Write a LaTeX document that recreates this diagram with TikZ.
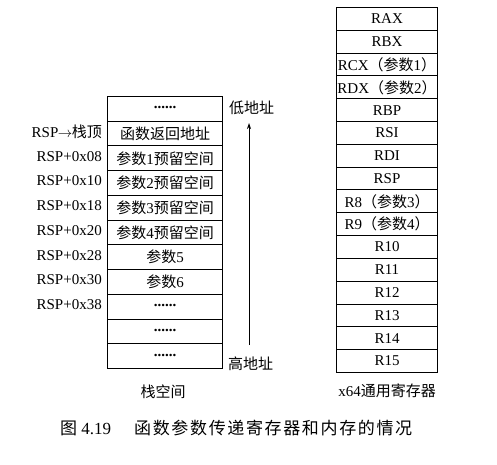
\documentclass[tikz,border=0pt]{standalone}
\usepackage{fontspec}
\setmainfont{Liberation Serif}
\newfontfamily\cjk{Noto Sans CJK SC}
\usetikzlibrary{arrows.meta}
\newcommand\C[1]{{\cjk #1}}
\newcommand\dotsrow{\raisebox{0.3ex}{\textbf{......}}}
\begin{document}
\begin{tikzpicture}[x=1pt,y=-1pt,
  cell/.style={draw, line width=1pt, rectangle, inner sep=0pt, anchor=north west},
  stackcell/.style={cell, minimum width=115pt, minimum height=24.73pt, font=\fontsize{15}{15}\selectfont},
  regcell/.style={cell, minimum width=101pt, minimum height=22.81pt, font=\fontsize{15}{15}\selectfont},
  lbl/.style={anchor=east, inner sep=0pt, font=\fontsize{15}{15}\selectfont},
  side/.style={inner sep=0pt, font=\fontsize{15}{15}\selectfont},
  captxt/.style={inner sep=0pt, anchor=west, font=\fontsize{17}{17}\selectfont}]
\useasboundingbox (0,0) rectangle (497,464);
% stack
\foreach \t [count=\i] in {{\dotsrow},{\C{函数返回地址}},{\C{参数}1\C{预留空间}},{\C{参数}2\C{预留空间}},{\C{参数}3\C{预留空间}},{\C{参数}4\C{预留空间}},{\C{参数}5},{\C{参数}6},{\dotsrow},{\dotsrow},{\dotsrow}}
  \node[stackcell] (s\i) at (107,{96+(\i-1)*24.73}) {\t};
% stack labels
\foreach \t [count=\j from 2] in {{RSP\kern-0.5pt$\rightarrow$\kern-0.5pt\C{栈顶}},{RSP+0x08},{RSP+0x10},{RSP+0x18},{RSP+0x20},{RSP+0x28},{RSP+0x30},{RSP+0x38}}
  \node[lbl] (l\j) at ([xshift=-5pt,yshift=2pt]s\j.west) {\t};
% registers
\foreach \t [count=\i] in {RAX,RBX,{RCX\C{（参数}1\C{）}},{RDX\C{（参数}2\C{）}},RBP,RSI,RDI,RSP,{R8\C{（参数}3\C{）}},{R9\C{（参数}4\C{）}},R10,R11,R12,R13,R14,R15}
  \node[regcell] (r\i) at (336,{7+(\i-1)*22.81}) {\t};
% address arrow
\coordinate (hiend) at (249,345);
\coordinate (loend) at (249,123);
\draw[line width=0.8pt, -{Stealth[length=6pt,width=4pt]}] (hiend) -- (loend);
\node[side, anchor=west] (low) at (229,108) {\C{低地址}};
\node[side, anchor=west] (high) at (228,364) {\C{高地址}};
% titles
\node[side] (stt) at (163,392) {\C{栈空间}};
\node[side] (rtt) at (387,391) {x64\C{通用寄存器}};
% caption
\node[captxt] (capn) at (60,428) {\C{图} 4.19};
\node[captxt] (capt) at (134,428) {\makebox[278pt][s]{\cjk 函\hfil 数\hfil 参\hfil 数\hfil 传\hfil 递\hfil 寄\hfil 存\hfil 器\hfil 和\hfil 内\hfil 存\hfil 的\hfil 情\hfil 况}};
\end{tikzpicture}
\end{document}
